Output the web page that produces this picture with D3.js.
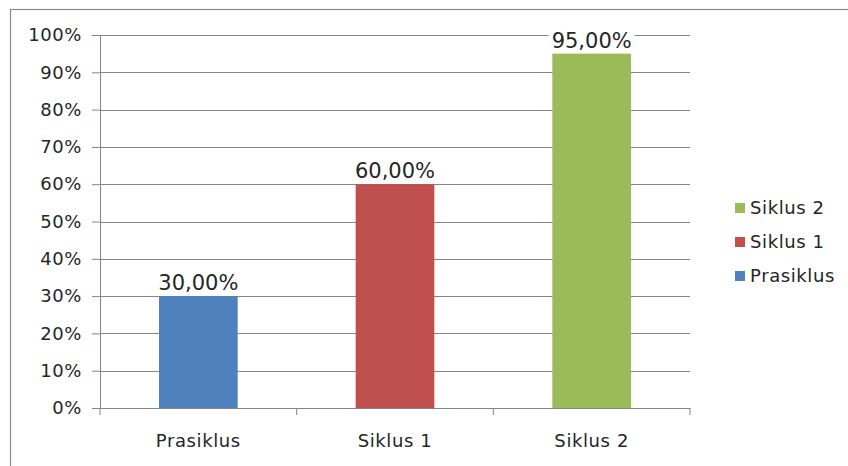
<!DOCTYPE html>
<html>
<head>
<meta charset="utf-8">
<script src="https://cdn.jsdelivr.net/npm/d3@7"></script>
<style>
  body { margin: 0; background: #fff; }
  text { font-family: "DejaVu Sans", sans-serif; fill: #262626; }
</style>
</head>
<body>
<div id="chart"></div>
<script>
// data
var categories = ["Prasiklus", "Siklus 1", "Siklus 2"];
var values = [0.30, 0.60, 0.95];
var colors = ["#4F81BD", "#C0504D", "#9BBB59"];
var yTicks = [0, 0.1, 0.2, 0.3, 0.4, 0.5, 0.6, 0.7, 0.8, 0.9, 1.0];
var legendOrder = ["Siklus 2", "Siklus 1", "Prasiklus"];

var W = 848, H = 466;
var plot = { left: 100, right: 690, top: 35, bottom: 408 };

var svg = d3.select("#chart").append("svg")
  .attr("width", W)
  .attr("height", H);

// outer chart border (right/bottom cut off like the picture)
svg.append("rect")
  .attr("x", 10.5).attr("y", 9.5)
  .attr("width", 860).attr("height", 480)
  .attr("fill", "#fff")
  .attr("stroke", "#8a8a8a")
  .attr("stroke-width", 1.2);

var x = d3.scaleBand()
  .domain(categories)
  .range([plot.left, plot.right])
  .padding(0);

var y = d3.scaleLinear()
  .domain([0, 1])
  .range([plot.bottom, plot.top]);

var fmtAxis = function (d) { return Math.round(d * 100) + "%"; };
var fmtLabel = function (d) { return (d * 100).toFixed(2).replace(".", ",") + "%"; };

// gridlines + y axis
var yAxis = svg.append("g")
  .attr("transform", "translate(" + plot.left + ",0)")
  .call(d3.axisLeft(y).tickValues(yTicks).tickFormat(fmtAxis)
    .tickSizeInner(8).tickSizeOuter(0).tickPadding(10));
yAxis.select(".domain").attr("stroke", "#868686");
yAxis.selectAll(".tick line").attr("stroke", "#868686");
yAxis.selectAll(".tick text")
  .attr("font-size", 18)
  .attr("letter-spacing", 0.6)
  .attr("fill", "#262626");

svg.append("g")
  .selectAll("line")
  .data(yTicks.filter(function (d) { return d > 0; }))
  .join("line")
  .attr("x1", plot.left).attr("x2", plot.right)
  .attr("y1", function (d) { return Math.round(y(d)) + 0.5; })
  .attr("y2", function (d) { return Math.round(y(d)) + 0.5; })
  .attr("stroke", "#868686")
  .attr("stroke-width", 1.2);

// x axis
var xAxis = svg.append("g")
  .attr("transform", "translate(0," + plot.bottom + ")")
  .call(d3.axisBottom(x).tickSize(0).tickPadding(26));
xAxis.select(".domain").attr("stroke", "#868686");
xAxis.selectAll(".tick text")
  .attr("font-size", 18)
  .attr("letter-spacing", 0.6)
  .attr("fill", "#262626");

// category boundary ticks
var bounds = [plot.left].concat(categories.map(function (c) { return x(c) + x.bandwidth(); }));
svg.append("g")
  .selectAll("line")
  .data(bounds)
  .join("line")
  .attr("x1", function (d) { return d; }).attr("x2", function (d) { return d; })
  .attr("y1", plot.bottom).attr("y2", plot.bottom + 7)
  .attr("stroke", "#868686");

// bars
var barW = x.bandwidth() * 0.4;
svg.append("g")
  .selectAll("rect")
  .data(values)
  .join("rect")
  .attr("x", function (d, i) { return x(categories[i]) + (x.bandwidth() - barW) / 2; })
  .attr("y", function (d) { return y(d); })
  .attr("width", barW)
  .attr("height", function (d) { return y(0) - y(d); })
  .attr("fill", function (d, i) { return colors[i]; });

// value labels with white background
var labels = svg.append("g")
  .selectAll("g")
  .data(values)
  .join("g")
  .attr("transform", function (d, i) {
    return "translate(" + (x(categories[i]) + x.bandwidth() / 2) + "," + (y(d) - 6) + ")";
  });
labels.append("rect")
  .attr("x", -43).attr("y", -20)
  .attr("width", 86).attr("height", 23)
  .attr("fill", "#fff");
labels.append("text")
  .attr("text-anchor", "middle")
  .attr("font-size", 21)
  .text(function (d) { return fmtLabel(d); });

// legend
var legend = svg.append("g")
  .selectAll("g")
  .data(legendOrder)
  .join("g")
  .attr("transform", function (d, i) { return "translate(735," + (203 + i * 34) + ")"; });
legend.append("rect")
  .attr("width", 10).attr("height", 10)
  .attr("fill", function (d) { return colors[categories.indexOf(d)]; });
legend.append("text")
  .attr("x", 15).attr("y", 11)
  .attr("font-size", 18)
  .attr("letter-spacing", 0.6)
  .text(function (d) { return d; });
</script>
</body>
</html>
